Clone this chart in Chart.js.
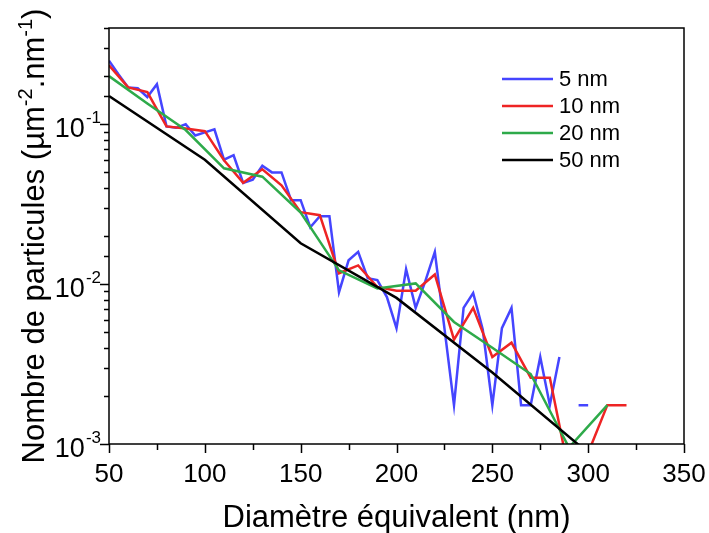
<!DOCTYPE html>
<html>
<head>
<meta charset="utf-8">
<script src="https://cdn.jsdelivr.net/npm/chart.js@4.4.1/dist/chart.umd.min.js"></script>
<style>
html, body { margin: 0; padding: 0; background: #fff; }
#wrap { width: 709px; height: 533px; }
</style>
</head>
<body>
<div id="wrap"><canvas id="sizeChart" width="709" height="533"></canvas></div>
<script>
// series (values in µm-2.nm-1)
const seriesNames = ['5 nm', '10 nm', '20 nm', '50 nm'];
const seriesColors = ['#4545ff', '#ee2424', '#2eaa4a', '#000000'];

const x5 = [50, 55, 60, 65, 70, 75, 80, 85, 90, 95, 100, 105, 110, 115, 120, 125, 130, 135, 140, 145,
    150, 155, 160, 165, 170, 175, 180, 185, 190, 195, 200, 205, 210, 215, 220, 225, 230, 235, 240, 245,
    250, 255, 260, 265, 270, 275, 280, 285, 290, 295, 300];
const y5 = [0.25, 0.205, 0.17, 0.168, 0.148, 0.178, 0.097, 0.095, 0.1, 0.085, 0.089, 0.093, 0.06, 0.064, 0.043, 0.045, 0.055, 0.05, 0.05, 0.0335,
    0.0335, 0.0227, 0.0266, 0.0266, 0.0089, 0.0141, 0.0159, 0.0109, 0.0106, 0.0083, 0.0053, 0.0124, 0.0071, 0.0104, 0.0159, 0.0053, 0.00175, 0.0071, 0.0088, 0.0052,
    0.00175, 0.0053, 0.0071, 0.00175, 0.00175, 0.0035, 0.00175, 0.0035, null, 0.00175, 0.00175];

const x10 = [50, 60, 70, 80, 90, 100, 110, 120, 130, 140, 150, 160, 170, 180, 190, 200, 210, 220, 230, 240,
    250, 260, 270, 280, 290, 300, 310, 320];
const y10 = [0.234, 0.17, 0.159, 0.097, 0.094, 0.0905, 0.0596, 0.043, 0.0523, 0.0415, 0.0282, 0.027, 0.0117, 0.0131, 0.0096, 0.0091, 0.0091, 0.0115, 0.0045, 0.0071,
    0.0035, 0.0043, 0.0026, 0.0026, 0.00066, 0.00088, 0.00175, 0.00175];

const x20 = [50, 70, 90, 110, 130, 150, 170, 190, 210, 230, 250, 270, 290, 310];
const y20 = [0.2, 0.135, 0.092, 0.053, 0.047, 0.028, 0.0122, 0.0094, 0.0101, 0.0058, 0.004, 0.00274, 0.00095, 0.00175];

const x50 = [50, 100, 150, 200, 250, 300];
const y50 = [0.15, 0.06, 0.018, 0.0082, 0.0028, 0.00088];

const xTickLabels = [50, 100, 150, 200, 250, 300, 350];
const yTickLabels = [0.001, 0.01, 0.1];

const FONT = "'Liberation Sans', Arial, sans-serif";

function toPoints(xs, ys) {
    return xs.map((x, i) => ({ x: x, y: ys[i] }));
}

// draws frame, ticks, labels, titles and legend the way the original plot looks
const decorPlugin = {
    id: 'decor',
    afterDraw(chart) {
        const ctx = chart.ctx;
        const area = chart.chartArea;
        const xs = chart.scales.x;
        const ys = chart.scales.y;
        ctx.save();
        ctx.strokeStyle = '#000';
        ctx.fillStyle = '#000';
        ctx.lineWidth = 1.5;
        ctx.strokeRect(area.left, area.top, area.right - area.left, area.bottom - area.top);

        ctx.beginPath();
        for (let v = xs.min; v <= xs.max; v += 25) {
            const px = Math.round(xs.getPixelForValue(v)) + 0.5;
            const len = v % 50 === 0 ? 9 : 6;
            ctx.moveTo(px, area.bottom);
            ctx.lineTo(px, area.bottom + len);
        }
        ys.ticks.forEach(t => {
            const py = Math.round(ys.getPixelForValue(t.value)) + 0.5;
            const lg = Math.log10(t.value);
            const major = Math.abs(lg - Math.round(lg)) < 1e-6;
            ctx.moveTo(area.left, py);
            ctx.lineTo(area.left - (major ? 9 : 5), py);
        });
        ctx.stroke();

        // x tick labels
        ctx.font = '26px ' + FONT;
        ctx.textAlign = 'center';
        ctx.textBaseline = 'alphabetic';
        xTickLabels.forEach(v => {
            ctx.fillText(String(v), xs.getPixelForValue(v), area.bottom + 38);
        });

        // y tick labels 10^n
        yTickLabels.forEach(v => {
            const py = ys.getPixelForValue(v);
            const exp = String(Math.round(Math.log10(v)));
            ctx.font = '17px ' + FONT;
            const wExp = ctx.measureText(exp).width;
            ctx.textAlign = 'right';
            ctx.fillText(exp, area.left - 8, py - 1);
            ctx.font = '27px ' + FONT;
            ctx.fillText('10', area.left - 9 - wExp, py + 13);
        });

        // x title
        ctx.font = '31px ' + FONT;
        ctx.textAlign = 'center';
        ctx.fillText('Diamètre équivalent (nm)', (area.left + area.right) / 2, 527);

        // y title with superscripts
        const parts = [
            { t: 'Nombre de particules (µm', sup: false },
            { t: '-2', sup: true },
            { t: '.nm', sup: false },
            { t: '-1', sup: true },
            { t: ')', sup: false }
        ];
        let total = 0;
        parts.forEach(p => {
            ctx.font = (p.sup ? '20px ' : '31px ') + FONT;
            p.w = ctx.measureText(p.t).width;
            total += p.w;
        });
        ctx.translate(44, (area.top + area.bottom) / 2);
        ctx.rotate(-Math.PI / 2);
        ctx.textAlign = 'left';
        let cx = -total / 2;
        parts.forEach(p => {
            ctx.font = (p.sup ? '20px ' : '31px ') + FONT;
            ctx.fillText(p.t, cx, p.sup ? -12 : 0);
            cx += p.w;
        });
        ctx.restore();

        // legend
        ctx.save();
        ctx.font = '22px ' + FONT;
        ctx.textBaseline = 'middle';
        ctx.textAlign = 'left';
        seriesNames.forEach((name, i) => {
            const ly = 79 + i * 27;
            ctx.strokeStyle = seriesColors[i];
            ctx.lineWidth = 2.4;
            ctx.beginPath();
            ctx.moveTo(502, ly);
            ctx.lineTo(553, ly);
            ctx.stroke();
            ctx.fillStyle = '#000';
            ctx.fillText(name, 559, ly + 1);
        });
        ctx.restore();
    }
};

const allX = [x5, x10, x20, x50];
const allY = [y5, y10, y20, y50];

const ctx = document.getElementById('sizeChart').getContext('2d');
new Chart(ctx, {
    type: 'line',
    data: {
        datasets: seriesNames.map((name, i) => ({
            label: name,
            data: toPoints(allX[i], allY[i]),
            borderColor: seriesColors[i],
            borderWidth: 2.5,
            pointRadius: 0,
            fill: false,
            tension: 0,
            spanGaps: false,
            order: 3 - i
        }))
    },
    options: {
        responsive: false,
        animation: false,
        devicePixelRatio: 1,
        layout: { padding: { top: 28, right: 25, left: 0, bottom: 0 } },
        plugins: {
            legend: { display: false },
            tooltip: { enabled: false }
        },
        scales: {
            x: {
                type: 'linear',
                min: 50,
                max: 350,
                ticks: { display: false },
                grid: { display: false },
                border: { display: false },
                afterFit: s => { s.height = 89; }
            },
            y: {
                type: 'logarithmic',
                min: 0.001,
                max: 0.4,
                ticks: { display: false },
                grid: { display: false },
                border: { display: false },
                afterFit: s => { s.width = 109; }
            }
        }
    },
    plugins: [decorPlugin]
});
</script>
</body>
</html>
